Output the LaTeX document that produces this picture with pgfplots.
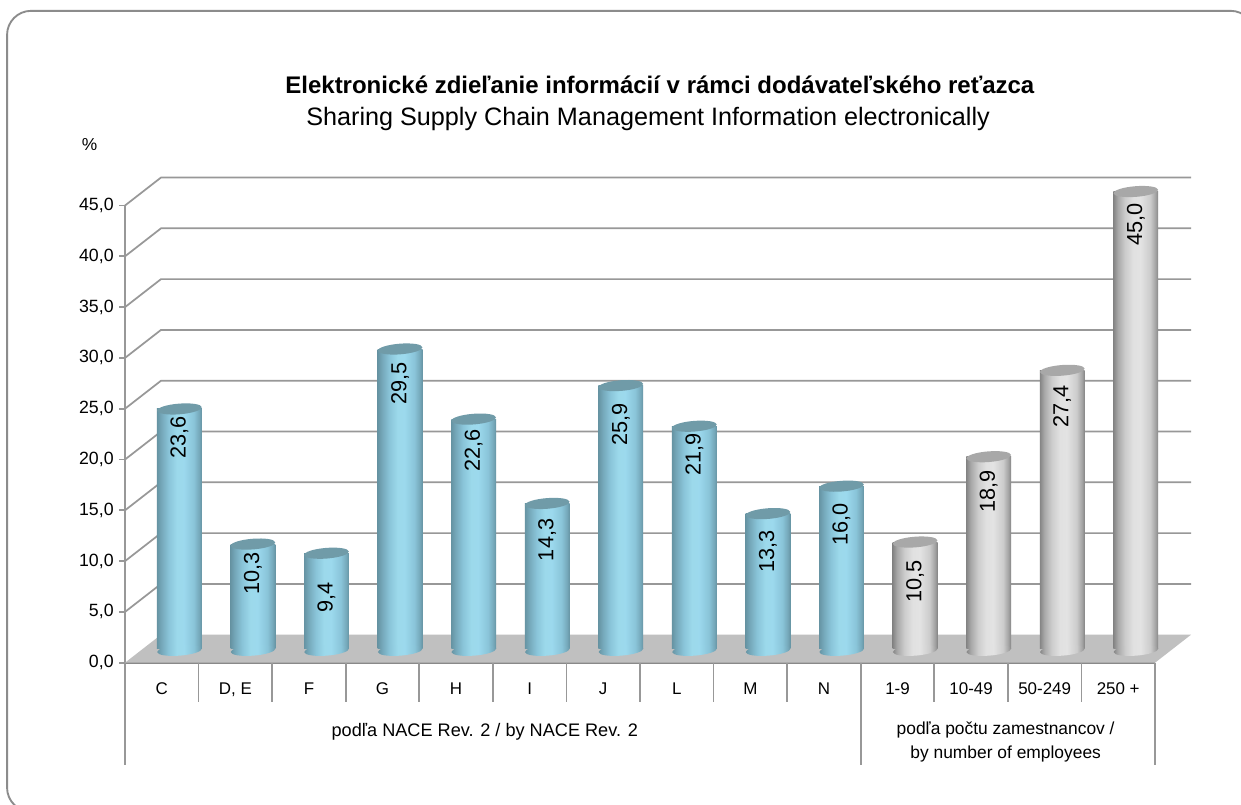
\documentclass[border=0pt]{standalone}
\usepackage{fontspec}
\setmainfont{Liberation Sans}
\usepackage{pgfplots}
\pgfplotsset{compat=1.18}
\usepackage{pgfplotstable}
\usetikzlibrary{shapes.geometric}
\definecolor{gridc}{HTML}{989898}
\definecolor{framec}{HTML}{8C8C8C}
\definecolor{floorc}{HTML}{C0C0C0}
\definecolor{topb}{HTML}{709BA8}
\definecolor{topg}{HTML}{A8A8A8}
\pgfdeclarehorizontalshading{cylblue}{100bp}{
 rgb(0bp)=(0.40,0.58,0.64); rgb(25bp)=(0.40,0.58,0.64); rgb(30bp)=(0.46,0.66,0.73); rgb(38bp)=(0.54,0.77,0.85);
 rgb(47bp)=(0.61,0.85,0.92); rgb(55bp)=(0.61,0.85,0.93); rgb(66bp)=(0.54,0.77,0.85); rgb(72bp)=(0.46,0.66,0.73); rgb(75bp)=(0.40,0.58,0.64); rgb(100bp)=(0.40,0.58,0.64)}
\pgfdeclarehorizontalshading{cylgray}{100bp}{
 rgb(0bp)=(0.52,0.52,0.52); rgb(25bp)=(0.52,0.52,0.52); rgb(30bp)=(0.66,0.66,0.66); rgb(38bp)=(0.80,0.80,0.80);
 rgb(47bp)=(0.88,0.88,0.88); rgb(55bp)=(0.89,0.89,0.89); rgb(66bp)=(0.80,0.80,0.80); rgb(72bp)=(0.64,0.64,0.64); rgb(75bp)=(0.52,0.52,0.52); rgb(100bp)=(0.52,0.52,0.52)}
\pgfplotstableread{
x  v    off
0  23.6 7
1  10.3 7.7
2  9.4  28.5
3  29.5 12.7
4  22.6 10
5  14.3 15
6  25.9 17.7
7  21.9 7
8  13.3 16.4
9  16.0 16.6
}\nace
\pgfplotstableread{
x  v    off
10 10.5 18
11 18.9 13.3
12 27.4 14.7
13 45.0 11.8
}\emp
\pgfplotstableread{
x  v
0  0
1  0
2  0
3  0
4  0
5  0
6  0
7  0
8  0
9  0
}\nacebase
\pgfplotstableread{
x  v
10 0
11 0
12 0
13 0
}\empbase
\pgfplotsset{
 ell/.style={draw=none,mark=none,nodes near coords={},every node near coord/.append style={shape=ellipse,inner sep=0pt,
   minimum width=33.6pt,minimum height=8pt,anchor=center,rotate=4.5,#1}},
 numf/.style={/pgf/number format/use comma,/pgf/number format/fixed,/pgf/number format/fixed zerofill,/pgf/number format/precision=1,/pgf/number format/assume math mode=true},
 barsty/.style={ybar,bar shift=0pt,bar width=33.6pt,draw=none,mark=none,shade,shading=#1},
 lab/.style={draw=none,mark=none,numf,visualization depends on={\thisrow{off} \as \off},point meta=y,
   nodes near coords,every node near coord/.append style={font=\fontsize{16.3}{18}\selectfont,text=black,inner sep=0pt,anchor=east,yshift=-\off*0.75pt,rotate=90}},
}
\begin{document}
\begin{tikzpicture}
\useasboundingbox (0pt,0pt) rectangle (930.75pt,603.75pt);
\begin{scope}
\clip (0pt,0pt) rectangle (930.75pt,603.75pt);
\fill[white] (0pt,0pt) rectangle (930.75pt,603.75pt);
\draw[framec,line width=1.4pt,rounded corners=18pt] (5.3pt,-5pt) rectangle (941pt,595.6pt);
\end{scope}
\begin{axis}[
 at={(93.75pt,106.7pt)},anchor=south west,scale only axis,width=772.5pt,height=342.9pt,
 xmin=-0.5,xmax=13.5,ymin=0,ymax=45,clip=false,enlargelimits=false,
 axis lines=left,axis line style={-},
 x axis line style={draw=gridc!90!black,line width=1.6pt},
 y axis line style={draw=gridc,line width=1.3pt},
 ytick={0,5,...,45},numf,
 y tick style={draw=gridc,line width=1.3pt},major tick length=4.5pt,tick align=outside,
 x tick style={draw=none},
 yticklabel style={font=\fontsize{13.3}{15}\selectfont,xshift=-0.5pt},
 xtick={0,...,13},
 xticklabels={C,{D, E},F,G,H,I,J,L,M,N,1-9,10-49,50-249,250 +},
 xticklabel style={font=\fontsize{12.7}{15}\selectfont,anchor=base,yshift=-19pt},
]
\fill[floorc] (axis cs:-0.5,0) -- ++(27pt,21pt) -- ++(772.5pt,0pt) -- ++(-27pt,-21pt) -- cycle;
\pgfplotsinvokeforeach{5,10,15,20,25,30,35,40,45}{
 \draw[gridc,line width=1.3pt] (axis cs:-0.5,#1) -- ++(27pt,21pt) -- ++(772.5pt,0pt);
}
\pgfplotsinvokeforeach{1,2,...,9,11,12,13}{
 \draw[gridc,line width=1.3pt] (axis cs:#1-0.5,0) -- ++(0pt,-29.5pt);
}
\pgfplotsinvokeforeach{-0.5,9.5,13.5}{
 \draw[gridc,line width=1.3pt] (axis cs:#1,0) -- ++(0pt,-77pt);
}
\node[font=\fontsize{13}{15}\selectfont] at (axis cs:-0.49,50.96) [xshift=-27.2pt] {\%};
\node[font=\fontsize{13.6}{15}\selectfont] at (axis cs:4.39,0) [yshift=-52pt] {podľa NACE Rev. 2 / by NACE Rev. 2};
\node[font=\fontsize{13.05}{18.6}\selectfont,align=center] at (axis cs:11.47,0) [yshift=-59.5pt] {podľa počtu zamestnancov /\\by number of employees};
\node[font=\fontsize{18}{24}\selectfont\bfseries] at (axis cs:6.77,0) [yshift=433.8pt] {Elektronické zdieľanie informácií v rámci dodávateľského reťazca};
\node[font=\fontsize{18.9}{24}\selectfont] at (axis cs:6.61,0) [yshift=407.7pt] {Sharing Supply Chain Management Information electronically};
\end{axis}
\begin{axis}[
 at={(106.95pt,117.2pt)},anchor=south west,scale only axis,width=772.5pt,height=342.9pt,
 xmin=-0.5,xmax=13.5,ymin=0,ymax=45,clip=false,enlargelimits=false,
 axis lines=none,
]
\addplot[ell={shade,shading=cylblue,yshift=-1.2pt}] table[x=x,y=v] {\nacebase};
\addplot[ell={shade,shading=cylgray,yshift=-1.2pt}] table[x=x,y=v] {\empbase};
\pgfplotsinvokeforeach{0,1,...,9}{
 \addplot[barsty=cylblue,restrict x to domain=#1:#1] table[x=x,y=v] {\nace};
}
\pgfplotsinvokeforeach{10,11,12,13}{
 \addplot[barsty=cylgray,restrict x to domain=#1:#1] table[x=x,y=v] {\emp};
}
\addplot[ell={fill=topb}] table[x=x,y=v] {\nace};
\addplot[ell={fill=topg}] table[x=x,y=v] {\emp};
\addplot[lab] table[x=x,y=v] {\nace};
\addplot[lab] table[x=x,y=v] {\emp};
\end{axis}
\end{tikzpicture}
\end{document}
